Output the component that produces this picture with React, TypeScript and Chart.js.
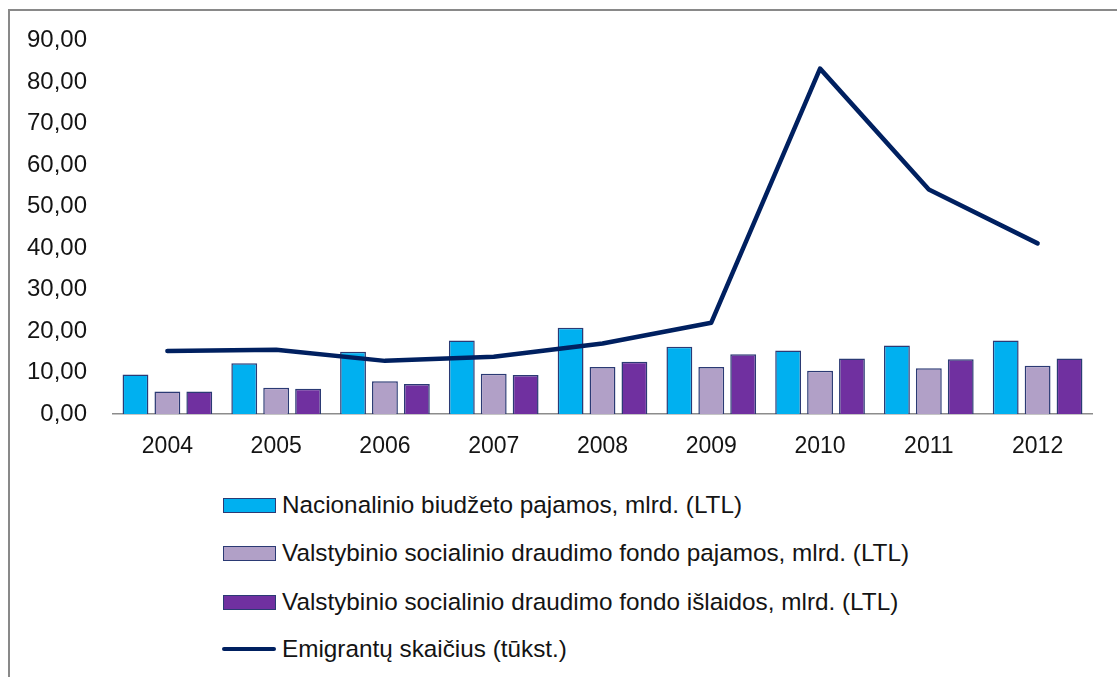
import React, { useEffect, useRef } from "react";
import { Chart, registerables } from "chart.js";

Chart.register(...registerables);

// ---- data ----
const years = ["2004", "2005", "2006", "2007", "2008", "2009", "2010", "2011", "2012"];
const nationalBudgetRevenue = [9.5, 12.2, 15.0, 17.7, 20.8, 16.2, 15.3, 16.5, 17.7];
const socialFundRevenue = [5.4, 6.3, 7.9, 9.7, 11.3, 11.3, 10.4, 11.0, 11.6];
const socialFundExpenditure = [5.4, 6.1, 7.2, 9.4, 12.6, 14.4, 13.4, 13.2, 13.4];
const emigrants = [15.2, 15.5, 12.8, 13.8, 17.0, 22.0, 83.2, 54.1, 41.1];

const seriesLabels = [
  "Nacionalinio biudžeto pajamos, mlrd. (LTL)",
  "Valstybinio socialinio draudimo fondo pajamos, mlrd. (LTL)",
  "Valstybinio socialinio draudimo fondo išlaidos, mlrd. (LTL)",
  "Emigrantų skaičius (tūkst.)",
];
const yMin = 0;
const yMax = 90;
const yStep = 10;

// ---- styles ----
const barColors = ["#00B0F0", "#B1A0C7", "#7030A0"];
const barBorder = "#2B3A74";
const lineColor = "#002060";
const FONT = "'Liberation Sans', Arial, sans-serif";

export default function App() {
  const canvasRef = useRef<HTMLCanvasElement | null>(null);

  useEffect(() => {
    if (!canvasRef.current) return;
    const barData = [nationalBudgetRevenue, socialFundRevenue, socialFundExpenditure];
    const chart = new Chart(canvasRef.current, {
      type: "bar",
      data: {
        labels: years,
        datasets: [
          {
            type: "line",
            label: seriesLabels[3],
            data: emigrants,
            borderColor: lineColor,
            backgroundColor: lineColor,
            borderWidth: 4.5,
            pointRadius: 0,
            tension: 0,
            borderCapStyle: "round",
            borderJoinStyle: "round",
            order: 0,
          } as any,
          ...barData.map((d, i) => ({
            type: "bar" as const,
            label: seriesLabels[i],
            data: d,
            backgroundColor: barColors[i],
            borderColor: barBorder,
            borderWidth: 1.5,
            categoryPercentage: 0.88,
            barPercentage: 0.81,
            order: 1,
          })),
        ],
      },
      options: {
        responsive: false,
        animation: false,
        devicePixelRatio: 1,
        layout: { padding: { top: 40, right: 25, bottom: 0, left: 0 } },
        plugins: {
          legend: { display: false },
          tooltip: { enabled: false },
          title: { display: false },
        },
        scales: {
          x: {
            grid: { display: false, drawTicks: false },
            border: { display: true, color: "#8C8C8C", width: 1.5 },
            ticks: {
              color: "#141414",
              font: { family: FONT, size: 23 },
              padding: 19,
              maxRotation: 0,
            },
            afterFit: (scale: any) => {
              scale.height = 66;
            },
          },
          y: {
            min: yMin,
            max: yMax,
            grid: { display: false, drawTicks: false },
            border: { display: false },
            ticks: {
              stepSize: yStep,
              color: "#141414",
              font: { family: FONT, size: 24 },
              padding: 26,
              callback: (v: any) => Number(v).toFixed(2).replace(".", ","),
            },
            afterFit: (scale: any) => {
              scale.width = 113;
            },
          },
        },
      },
    });
    return () => chart.destroy();
  }, []);

  const legendItems = seriesLabels.map((label, i) => ({
    label,
    isLine: i === 3,
    color: i === 3 ? lineColor : barColors[i],
  }));
  const rowCenters = [505, 553, 602, 649];

  return (
    <div
      style={{
        position: "fixed",
        left: 0,
        top: 0,
        width: 1117,
        height: 677,
        overflow: "hidden",
        background: "#fff",
        fontFamily: FONT,
      }}
    >
      <div
        style={{
          position: "absolute",
          left: 8,
          top: 9,
          width: 1200,
          height: 800,
          borderLeft: "2px solid #898989",
          borderTop: "2px solid #898989",
        }}
      />
      <canvas
        ref={canvasRef}
        width={1117}
        height={480}
        style={{ position: "absolute", left: 0, top: 0, width: 1117, height: 480 }}
      />
      {legendItems.map((item, i) => (
        <div
          key={item.label}
          style={{
            position: "absolute",
            left: 222,
            top: rowCenters[i] - 16,
            height: 32,
            display: "flex",
            alignItems: "center",
            whiteSpace: "nowrap",
          }}
        >
          {item.isLine ? (
            <div
              style={{
                width: 54,
                height: 4,
                borderRadius: 2,
                background: item.color,
                marginRight: 6,
              }}
            />
          ) : (
            <div
              style={{
                width: 51,
                height: 13,
                background: item.color,
                border: `1.5px solid ${barBorder}`,
                marginLeft: 1,
                marginRight: 6,
              }}
            />
          )}
          <span style={{ fontSize: 24.3, color: "#141414" }}>{item.label}</span>
        </div>
      ))}
    </div>
  );
}
